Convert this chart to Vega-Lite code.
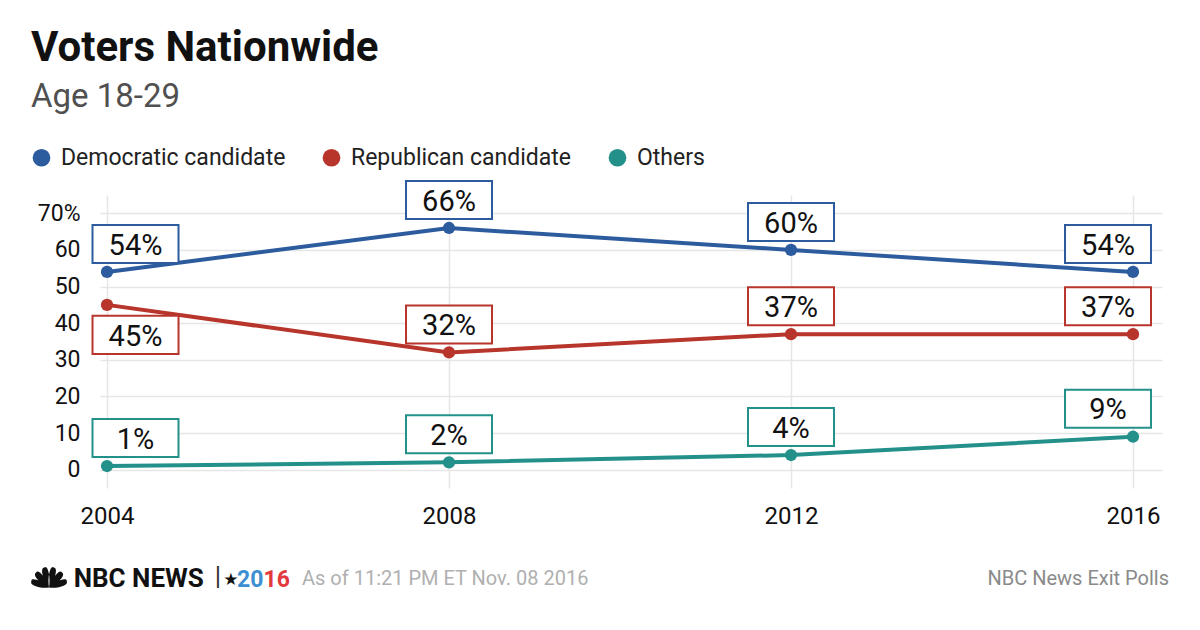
{
  "$schema": "https://vega.github.io/schema/vega-lite/v6.json",
  "width": 1062,
  "height": 293,
  "autosize": {"type": "none"},
  "padding": {"left": 100, "top": 195, "right": 38, "bottom": 142},
  "background": "white",
  "config": {"view": {"stroke": null}, "font": "Roboto"},
  "title": {
    "text": "Voters Nationwide",
    "subtitle": "Age 18-29",
    "anchor": "start",
    "frame": "group",
    "dx": -69,
    "offset": 31,
    "font": "Roboto",
    "fontSize": 42,
    "fontWeight": "bold",
    "color": "#111111",
    "subtitleFont": "Roboto",
    "subtitleFontSize": 33,
    "subtitleColor": "#505050",
    "subtitlePadding": 11
  },
  "data": {
    "values": [
      {"year": 2004, "party": "Democratic candidate", "pct": 54},
      {"year": 2008, "party": "Democratic candidate", "pct": 66},
      {"year": 2012, "party": "Democratic candidate", "pct": 60},
      {"year": 2016, "party": "Democratic candidate", "pct": 54},
      {"year": 2004, "party": "Republican candidate", "pct": 45},
      {"year": 2008, "party": "Republican candidate", "pct": 32},
      {"year": 2012, "party": "Republican candidate", "pct": 37},
      {"year": 2016, "party": "Republican candidate", "pct": 37},
      {"year": 2004, "party": "Others", "pct": 1},
      {"year": 2008, "party": "Others", "pct": 2},
      {"year": 2012, "party": "Others", "pct": 4},
      {"year": 2016, "party": "Others", "pct": 9}
    ]
  },
  "resolve": {"legend": {"color": "independent"}},
  "layer": [
    {
      "resolve": {"legend": {"color": "independent"}},
      "encoding": {
        "x": {
          "field": "year", "type": "quantitative",
          "scale": {"domain": [2003.918, 2016.339], "nice": false, "zero": false},
          "axis": {
            "values": [2004, 2008, 2012, 2016], "format": "d", "title": null,
            "grid": true, "gridColor": "#e6e6e6", "gridWidth": 1.5,
            "domain": false, "ticks": false, "tickSize": 0, "labelFlush": false,
            "labelFont": "Roboto", "labelFontSize": 24, "labelPadding": 16, "labelColor": "#111111"
          }
        },
        "y": {
          "field": "pct", "type": "quantitative",
          "scale": {"domain": [-5, 75], "nice": false, "zero": false},
          "axis": {
            "values": [0, 10, 20, 30, 40, 50, 60, 70], "title": null,
            "grid": true, "gridColor": "#e6e6e6", "gridWidth": 1.5,
            "domain": false, "ticks": false, "tickSize": 0, "labelFlush": false,
            "labelFont": "Roboto", "labelFontSize": 23, "labelPadding": 20, "labelColor": "#111111",
            "labelExpr": "datum.value == 70 ? '70%' : datum.label"
          }
        }
      },
      "layer": [
        {
          "mark": {"type": "line", "strokeWidth": 4},
          "encoding": {
            "color": {
              "field": "party", "type": "nominal",
              "scale": {"domain": ["Democratic candidate", "Republican candidate", "Others"], "range": ["#2c5b9e", "#b8352c", "#23918a"]},
              "legend": null
            }
          }
        },
        {
          "mark": {"type": "point", "filled": true, "size": 150, "opacity": 1},
          "encoding": {
            "color": {
              "field": "party", "type": "nominal",
              "scale": {"domain": ["Democratic candidate", "Republican candidate", "Others"], "range": ["#2c5b9e", "#b8352c", "#23918a"]},
              "legend": {
                "orient": "none", "legendX": -70, "legendY": -49, "direction": "horizontal",
                "title": null, "symbolType": "circle", "symbolSize": 314, "symbolStrokeWidth": 0,
                "symbolOpacity": 1, "labelLimit": 0,
                "labelFont": "Roboto", "labelFontSize": 23, "labelColor": "#222222",
                "labelOffset": 8, "columnPadding": 34, "padding": 0, "rowPadding": 0
              }
            }
          }
        },
        {
          "mark": {
            "type": "point", "shape": "M-1,-0.442L1,-0.442L1,0.442L-1,0.442Z", "size": 7396,
            "filled": false, "fill": "white", "fillOpacity": 1, "strokeWidth": 2, "opacity": 1,
            "xOffset": {"expr": "datum.year == 2004 ? 28.5 : datum.year == 2016 ? -25 : 0"},
            "yOffset": {"expr": "datum.party == 'Republican candidate' && datum.year == 2004 ? 30 : -28"}
          },
          "encoding": {
            "color": {
              "field": "party", "type": "nominal",
              "scale": {"domain": ["Democratic candidate", "Republican candidate", "Others"], "range": ["#2c5b9e", "#b8352c", "#23918a"]},
              "legend": null
            }
          }
        },
        {
          "mark": {
            "type": "text", "font": "Roboto", "fontSize": 29, "color": "#111111",
            "align": "center", "baseline": "middle",
            "text": {"expr": "datum.pct + '%'"},
            "xOffset": {"expr": "datum.year == 2004 ? 28.5 : datum.year == 2016 ? -25 : 0"},
            "yOffset": {"expr": "datum.party == 'Republican candidate' && datum.year == 2004 ? 31.7 : -26.3"}
          }
        }
      ]
    },
    {
      "data": {"values": [{"item": "logo"}]},
      "mark": {"type": "text", "text": "NBC NEWS", "font": "Roboto", "fontSize": 26, "fontWeight": "bold", "color": "#111111", "align": "left", "baseline": "alphabetic"},
      "encoding": {"x": {"datum": 2003.61, "type": "quantitative"}, "y": {"datum": -32.03, "type": "quantitative"}}
    },
    {
      "data": {"values": [{"item": "bar"}]},
      "mark": {"type": "text", "text": "|", "font": "Roboto", "fontSize": 26, "color": "#333333", "align": "center", "baseline": "alphabetic"},
      "encoding": {"x": {"datum": 2005.298, "type": "quantitative"}, "y": {"datum": -31.48, "type": "quantitative"}}
    },
    {
      "data": {"values": [{"item": "star"}]},
      "mark": {"type": "text", "text": "★", "font": "DejaVu Sans", "fontSize": 17, "color": "#111111", "align": "center", "baseline": "middle"},
      "encoding": {"x": {"datum": 2005.45, "type": "quantitative"}, "y": {"datum": -30.12, "type": "quantitative"}}
    },
    {
      "data": {"values": [{"item": "20"}]},
      "mark": {"type": "text", "text": "20", "font": "Roboto", "fontSize": 23, "fontWeight": "bold", "color": "#3d8fd1", "align": "right", "baseline": "alphabetic"},
      "encoding": {"x": {"datum": 2005.83, "type": "quantitative"}, "y": {"datum": -32.03, "type": "quantitative"}}
    },
    {
      "data": {"values": [{"item": "16"}]},
      "mark": {"type": "text", "text": "16", "font": "Roboto", "fontSize": 23, "fontWeight": "bold", "color": "#e2393d", "align": "left", "baseline": "alphabetic"},
      "encoding": {"x": {"datum": 2005.83, "type": "quantitative"}, "y": {"datum": -32.03, "type": "quantitative"}}
    },
    {
      "data": {"values": [{"item": "asof"}]},
      "mark": {"type": "text", "text": "As of 11:21 PM ET Nov. 08 2016", "font": "Roboto", "fontSize": 20, "color": "#b0b0b0", "align": "left", "baseline": "alphabetic"},
      "encoding": {"x": {"datum": 2006.281, "type": "quantitative"}, "y": {"datum": -31.48, "type": "quantitative"}}
    },
    {
      "data": {"values": [{"item": "source"}]},
      "mark": {"type": "text", "text": "NBC News Exit Polls", "font": "Roboto", "fontSize": 20, "color": "#8a8a8a", "align": "right", "baseline": "alphabetic"},
      "encoding": {"x": {"datum": 2016.421, "type": "quantitative"}, "y": {"datum": -31.48, "type": "quantitative"}}
    },
    {
      "data": {"values": [{"item": "peacock"}]},
      "mark": {
        "type": "point", "filled": true, "color": "#111111", "opacity": 1, "size": 1444,
        "shape": "M0,0.55C0.5,0.62,1.05,0.42,0.93,0.22C0.98,0.0,0.4,0.16,0,0.55ZM0,0.55C0.5,0.34,0.9,-0.12,0.68,-0.24C0.6,-0.46,0.14,0.02,0,0.55ZM0,0.55C0.34,0.14,0.48,-0.5,0.25,-0.5C0.08,-0.68,-0.1,-0.02,0,0.55ZM0,0.55C-0.34,0.14,-0.48,-0.5,-0.25,-0.5C-0.08,-0.68,0.1,-0.02,0,0.55ZM0,0.55C-0.5,0.34,-0.9,-0.12,-0.68,-0.24C-0.6,-0.46,-0.14,0.02,0,0.55ZM0,0.55C-0.5,0.62,-1.05,0.42,-0.93,0.22C-0.98,0.0,-0.4,0.16,0,0.55Z"
      },
      "encoding": {"x": {"datum": 2003.322, "type": "quantitative"}, "y": {"datum": -29.3, "type": "quantitative"}}
    }
  ]
}
